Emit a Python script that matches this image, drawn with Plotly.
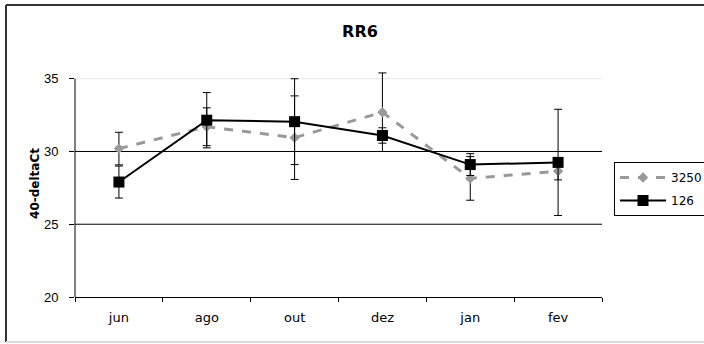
import plotly.graph_objects as go

months = ["jun", "ago", "out", "dez", "jan", "fev"]
s3250 = [30.2, 31.7, 30.95, 32.7, 28.15, 28.65]
e3250 = [1.12, 1.3, 2.87, 2.7, 1.5, 0.6]
s126 = [27.9, 32.15, 32.05, 31.1, 29.1, 29.25]
e126 = [1.1, 1.9, 2.95, 0.53, 0.75, 3.65]
yticks = [20, 25, 30, 35]
gridlines = [25, 30]
ymin, ymax = 20, 35

FONT = "Liberation Sans, Arial, sans-serif"
WIDE = "DejaVu Sans, sans-serif"

W, H = 704, 344
ML, MR, MB = 75, 102, 47
TOP35 = 79  # pixel row of the 35 line
ytop = 35.6  # extra headroom so error bars above 35 are not clipped
pxu = (H - MB - TOP35) / (ymax - ymin)
MT = round(H - MB - (ytop - ymin) * pxu)
ph = H - MT - MB
pw = W - ML - MR


def px(x):
    return (x - ML) / pw


def py(y):
    return (H - MB - y) / ph


fig = go.Figure()
fig.add_trace(go.Scatter(
    x=months, y=s3250, name="3250", mode="lines+markers", legendgroup="a",
    line=dict(color="#999999", width=3, dash="dash"),
    marker=dict(symbol="diamond", size=8, color="#999999"),
    error_y=dict(type="data", array=e3250, visible=True, color="#000000", thickness=1, width=4),
    cliponaxis=False,
))
fig.add_trace(go.Scatter(
    x=months, y=s126, name="126", mode="lines+markers", legendgroup="b",
    line=dict(color="#000000", width=2),
    marker=dict(symbol="square", size=11, color="#000000"),
    error_y=dict(type="data", array=e126, visible=True, color="#000000", thickness=1, width=4),
    cliponaxis=False,
))

for g in gridlines:
    fig.add_shape(type="line", xref="paper", yref="y", x0=0, x1=1, y0=g, y1=g,
                  line=dict(color="#000000", width=1), layer="below")
fig.add_shape(type="line", xref="paper", yref="y", x0=0, x1=1, y0=ymax, y1=ymax,
              line=dict(color="#e6e6e6", width=1), layer="below")
# y axis line (only from 20 to 35)
fig.add_shape(type="line", xref="paper", yref="y", x0=0, x1=0, y0=ymin, y1=ymax,
              line=dict(color="#000000", width=1))

# outer chart border
fig.add_shape(type="line", xref="paper", yref="paper", x0=px(6), x1=px(720), y0=py(5), y1=py(5),
              line=dict(color="#333333", width=2))
fig.add_shape(type="line", xref="paper", yref="paper", x0=px(6), x1=px(6), y0=py(5), y1=py(342),
              line=dict(color="#333333", width=2))
fig.add_shape(type="line", xref="paper", yref="paper", x0=px(6), x1=px(720), y0=py(342), y1=py(342),
              line=dict(color="#d9d9d9", width=2))

fig.update_layout(
    width=W, height=H,
    margin=dict(l=ML, r=MR, t=MT, b=MB, autoexpand=False),
    paper_bgcolor="white", plot_bgcolor="white",
    font=dict(family=FONT, size=12, color="#000000"),
    title=dict(text="<b>RR6</b>", x=360 / W, xanchor="center", y=1 - 31 / H, yanchor="middle",
               font=dict(family=WIDE, size=16, color="#000000")),
    showlegend=True,
    legend=dict(x=px(614), xanchor="left", y=py(162), yanchor="top",
                bordercolor="#000000", borderwidth=1, bgcolor="white",
                font=dict(family=WIDE, size=12, color="#000000"),
                itemwidth=46, tracegroupgap=4),
    xaxis=dict(type="category", range=[-0.5, 5.5], showgrid=False,
               showline=True, linecolor="#000000", linewidth=1,
               ticks="outside", tickson="boundaries", ticklen=4, tickcolor="#000000",
               ticklabelstandoff=8,
               tickfont=dict(family=WIDE, size=13)),
    yaxis=dict(range=[ymin, ytop], tickvals=yticks, showgrid=False, zeroline=False,
               showline=False,
               ticks="outside", ticklen=5, tickcolor="#000000",
               ticklabelstandoff=8,
               tickfont=dict(family=FONT, size=13),
               title=dict(text="<b>40-deltaCt</b>", font=dict(family=WIDE, size=12), standoff=1)),
)

fig.write_html("out.html")
